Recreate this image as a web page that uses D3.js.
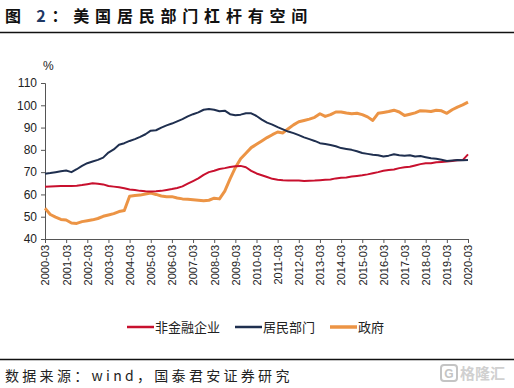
<!DOCTYPE html>
<html>
<head>
<meta charset="utf-8">
<script src="https://cdn.jsdelivr.net/npm/d3@7"></script>
<style>
  body { margin: 0; background: #fff; }
  text { font-family: "Liberation Sans", Arial, "Noto Sans CJK SC", sans-serif; }
  .cjk { font-family: "Noto Sans CJK SC", sans-serif; }
</style>
</head>
<body>
<div id="chart"></div>
<script>
// quarterly, 2000-03 .. 2020-03
var startYear = 2000, endYear = 2020;

var corporate = [
  63.5, 63.6, 63.7, 63.8, 63.8, 63.8, 63.9, 64.2,
  64.6, 65.0, 64.8, 64.5, 63.8, 63.5, 63.2, 62.8,
  62.2, 62.0, 61.6, 61.4, 61.3, 61.4, 61.6, 62.0,
  62.4, 62.9, 63.6, 64.8, 66.0, 67.2, 68.8, 70.0,
  70.6, 71.4, 71.8, 72.3, 72.6, 72.8, 72.2, 70.6,
  69.4, 68.6, 67.8, 67.0, 66.6, 66.4, 66.3, 66.3,
  66.2, 66.0, 66.1, 66.2, 66.4, 66.6, 66.7, 67.2,
  67.5, 67.6, 68.0, 68.3, 68.6, 69.0, 69.5, 70.0,
  70.6, 71.0, 71.2, 71.8, 72.2, 72.4, 73.0, 73.6,
  74.0, 74.0, 74.4, 74.6, 74.8, 75.0, 75.3, 75.4,
  78.0
];

var household = [
  69.3, 69.6, 70.0, 70.4, 70.7, 70.0, 71.3, 72.8,
  74.0, 74.8, 75.5, 76.5, 78.8, 80.2, 82.3, 83.0,
  84.0, 84.8, 85.8, 87.0, 88.6, 88.8, 90.0, 91.0,
  91.8, 92.8, 93.8, 95.0, 96.0, 96.8, 98.0, 98.3,
  98.0, 97.3, 97.6, 96.0, 95.5, 95.8, 96.4, 96.4,
  95.2, 93.6, 92.2, 91.3, 90.2, 89.2, 88.2, 87.5,
  86.6, 85.6, 84.8, 84.0, 83.0, 82.6, 82.2, 81.6,
  80.8, 80.4, 80.0, 79.4, 78.6, 78.2, 77.8, 77.6,
  77.0, 77.4, 78.0, 77.6, 77.4, 77.6, 77.0, 77.2,
  76.7, 76.2, 76.0, 75.6, 75.0, 75.2, 75.4, 75.3,
  75.5
];

var government = [
  53.8, 51.0, 49.8, 48.8, 48.5, 47.2, 47.0, 47.8,
  48.2, 48.6, 49.2, 50.2, 50.8, 51.4, 52.3, 52.8,
  59.2, 59.5, 59.7, 60.2, 60.6, 60.0, 59.3, 59.0,
  59.0, 58.4, 58.0, 57.8, 57.6, 57.4, 57.2, 57.4,
  58.3, 58.0, 61.5, 67.0, 72.0, 76.0, 78.5, 81.0,
  82.5, 84.0, 85.5, 86.8, 88.0, 87.6, 89.5, 91.2,
  92.6, 93.2, 93.8, 94.6, 96.2, 95.0, 95.8, 97.0,
  97.0, 96.5, 96.2, 96.4, 95.8, 94.8, 93.2, 96.4,
  96.8, 97.2, 97.8, 97.0, 95.4, 96.0, 96.6, 97.6,
  97.4, 97.2, 97.8, 97.5, 96.4, 98.0, 99.2, 100.2,
  101.4
];

var yTicks = [40, 50, 60, 70, 80, 90, 100, 110];
var seriesNames = ["非金融企业", "居民部门", "政府"];
var seriesColors = ["#c8102e", "#1f2f4f", "#ec9445"];
var seriesWidths = [2, 2, 3];

var xLabels = [];
for (var yr = startYear; yr <= endYear; yr++) xLabels.push(yr + "-03");

var W = 514, H = 388;
var svg = d3.select("#chart").append("svg")
    .attr("width", W)
    .attr("height", H);

// title + rules
svg.append("text")
    .attr("class", "cjk")
    .attr("x", 5)
    .attr("y", 22)
    .attr("font-size", 16)
    .attr("font-weight", "bold")
    .attr("letter-spacing", 5.8)
    .attr("fill", "#111")
    .html('图 <tspan fill="#1f3864">2</tspan>：美国居民部门杠杆有空间');

svg.append("line")
    .attr("x1", 0).attr("x2", W)
    .attr("y1", 32.5).attr("y2", 32.5)
    .attr("stroke", "#111").attr("stroke-width", 1.5);

svg.append("line")
    .attr("x1", 0).attr("x2", W)
    .attr("y1", 359.5).attr("y2", 359.5)
    .attr("stroke", "#111").attr("stroke-width", 1.5);

svg.append("text")
    .attr("class", "cjk")
    .attr("x", 5)
    .attr("y", 381)
    .attr("font-size", 14)
    .attr("letter-spacing", 3.3)
    .attr("fill", "#222")
    .text("数据来源：wind，国泰君安证券研究");

// watermark
var wm = svg.append("g").attr("transform", "translate(441,364)");
wm.append("rect")
    .attr("x", 0).attr("y", 1).attr("width", 16).attr("height", 16).attr("rx", 3)
    .attr("fill", "none").attr("stroke", "#c4c4c4").attr("stroke-width", 2);
wm.append("text")
    .attr("x", 8).attr("y", 14)
    .attr("text-anchor", "middle")
    .attr("font-size", 12).attr("font-weight", "bold")
    .attr("fill", "#c4c4c4")
    .text("G");
wm.append("text")
    .attr("class", "cjk")
    .attr("x", 19).attr("y", 15)
    .attr("font-size", 15).attr("font-weight", "bold")
    .attr("fill", "#d0d0d0")
    .text("格隆汇");

// scales
var x = d3.scaleLinear().domain([0, corporate.length - 1]).range([45, 468]);
var y = d3.scaleLinear().domain([40, 110]).range([239, 83]);

// y axis
var yAxis = svg.append("g")
    .attr("transform", "translate(45,0)")
    .call(d3.axisLeft(y).tickValues(yTicks).tickSize(4).tickPadding(4));
yAxis.select(".domain").attr("stroke", "#555");
yAxis.selectAll(".tick line").attr("stroke", "#555");
yAxis.selectAll(".tick text")
    .attr("font-size", 12)
    .attr("fill", "#222");

svg.append("text")
    .attr("x", 43)
    .attr("y", 70)
    .attr("font-size", 12)
    .attr("fill", "#222")
    .text("%");

// x axis
var xAxis = svg.append("g")
    .attr("transform", "translate(0,239)")
    .call(d3.axisBottom(x)
        .tickValues(d3.range(0, corporate.length, 4))
        .tickFormat(function(d) { return xLabels[d / 4]; })
        .tickSize(4)
        .tickSizeOuter(0));
xAxis.select(".domain").attr("stroke", "#555");
xAxis.selectAll(".tick line").attr("stroke", "#555");
xAxis.selectAll(".tick text")
    .attr("font-size", 11)
    .attr("fill", "#222")
    .attr("text-anchor", "end")
    .attr("transform", "rotate(-90)")
    .attr("x", -6)
    .attr("y", 0)
    .attr("dy", "0.35em");

// lines
var allSeries = [corporate, household, government];
var line = d3.line()
    .x(function(d, i) { return x(i); })
    .y(function(d) { return y(d); });

// government underneath, the others on top
[2, 0, 1].forEach(function(k) {
    svg.append("path")
        .datum(allSeries[k])
        .attr("fill", "none")
        .attr("stroke", seriesColors[k])
        .attr("stroke-width", seriesWidths[k])
        .attr("stroke-linejoin", "round")
        .attr("d", line);
});

// legend
var legendX = [127, 235, 330];
var legend = svg.append("g");
seriesNames.forEach(function(name, k) {
    legend.append("line")
        .attr("x1", legendX[k]).attr("x2", legendX[k] + 27)
        .attr("y1", 327).attr("y2", 327)
        .attr("stroke", seriesColors[k])
        .attr("stroke-width", seriesWidths[k] + 0.5);
    legend.append("text")
        .attr("class", "cjk")
        .attr("x", legendX[k] + 28)
        .attr("y", 332)
        .attr("font-size", 13)
        .attr("fill", "#222")
        .text(name);
});
</script>
</body>
</html>
